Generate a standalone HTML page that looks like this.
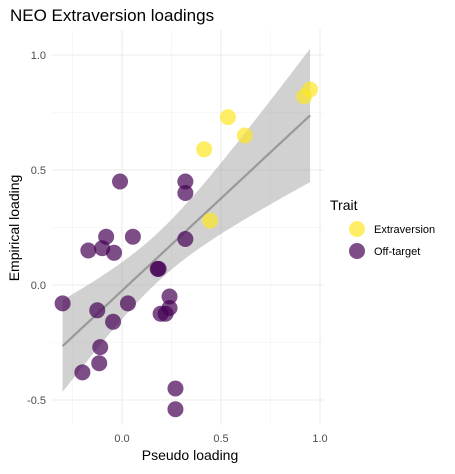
<!DOCTYPE html>
<html><head><meta charset="utf-8"><style>
body{margin:0;background:#fff;}
svg text{font-family:"Liberation Sans",sans-serif;}
</style></head><body>
<svg id="chart" width="455" height="469" xmlns="http://www.w3.org/2000/svg">
<text x="10" y="21" font-size="17" fill="#000">NEO Extraversion loadings</text>
<g id="grid"></g>
<g id="ribbon"></g>
<g id="pts"></g>
<g id="axes"></g>
<text x="190" y="460" font-size="14" text-anchor="middle" fill="#000">Pseudo loading</text>
<text transform="translate(19,228) rotate(-90)" font-size="14" text-anchor="middle" fill="#000">Empirical loading</text>
<g>
<text x="330" y="210" font-size="14" fill="#000">Trait</text>
<circle cx="357" cy="229" r="8" fill="#FDE725" fill-opacity="0.7"/>
<text x="374" y="233" font-size="11" fill="#000">Extraversion</text>
<circle cx="357" cy="251" r="8" fill="#440154" fill-opacity="0.7"/>
<text x="374" y="255" font-size="11" fill="#000">Off-target</text>
</g>
</svg>
<script>
const pseudo = [-0.30,-0.01,0.32,0.32,-0.08,-0.17,-0.10,-0.04,0.055,0.32,0.18,0.185,0.24,0.24,0.195,0.22,-0.125,0.03,-0.045,-0.11,-0.115,-0.20,0.27,0.27,0.445,0.415,0.535,0.62,0.92,0.95];
const empirical = [-0.08,0.45,0.45,0.40,0.21,0.15,0.16,0.14,0.21,0.20,0.07,0.07,-0.05,-0.10,-0.125,-0.125,-0.11,-0.08,-0.16,-0.27,-0.34,-0.38,-0.45,-0.54,0.28,0.59,0.73,0.65,0.82,0.85];
const trait = ["O","O","O","O","O","O","O","O","O","O","O","O","O","O","O","O","O","O","O","O","O","O","O","O","E","E","E","E","E","E"];
const xTicks = [0.0,0.5,1.0];
const yTicks = [-0.5,0.0,0.5,1.0];
const xTickLabels = ["0.0","0.5","1.0"];
const yTickLabels = ["-0.5","0.0","0.5","1.0"];

const NS="http://www.w3.org/2000/svg";
const X=v=>122+198*v, Y=v=>285-230*v;
const PL=52,PR=324,PT=30,PB=425;
function mk(t,a,p){const e=document.createElementNS(NS,t);for(const k in a)e.setAttribute(k,a[k]);p.appendChild(e);return e;}
const grid=document.getElementById('grid'),axes=document.getElementById('axes');
[-0.25,0.25,0.75].forEach(v=>{const l=mk('line',{x1:X(v),x2:X(v),y1:PT,y2:PB,stroke:'#f2f2f2','stroke-width':0.6},grid);});
[-0.25,0.25,0.75].forEach(v=>{const l=mk('line',{x1:PL,x2:PR,y1:Y(v),y2:Y(v),stroke:'#f2f2f2','stroke-width':0.6},grid);});
xTicks.forEach((v,i)=>{const l=mk('line',{x1:X(v),x2:X(v),y1:PT,y2:PB,stroke:'#ebebeb','stroke-width':1.1},grid);
 const t=mk('text',{x:X(v),y:442,'font-size':11,'text-anchor':'middle',fill:'#4d4d4d'},axes);t.textContent=xTickLabels[i];});
yTicks.forEach((v,i)=>{const l=mk('line',{x1:PL,x2:PR,y1:Y(v),y2:Y(v),stroke:'#ebebeb','stroke-width':1.1},grid);
 const t=mk('text',{x:46,y:Y(v)+4,'font-size':11,'text-anchor':'end',fill:'#4d4d4d'},axes);t.textContent=yTickLabels[i];});
// regression
const n=pseudo.length,mx=pseudo.reduce((a,b)=>a+b)/n,my=empirical.reduce((a,b)=>a+b)/n;
let sxx=0,sxy=0;for(let i=0;i<n;i++){sxx+=(pseudo[i]-mx)**2;sxy+=(pseudo[i]-mx)*(empirical[i]-my);}
const b=sxy/sxx,a=my-b*mx;let sse=0;for(let i=0;i<n;i++)sse+=(empirical[i]-a-b*pseudo[i])**2;
const s=Math.sqrt(sse/(n-2)),tq=2.048;
const x0=Math.min(...pseudo),x1=Math.max(...pseudo);
const up=[],lo=[];
for(let k=0;k<=40;k++){const x=x0+(x1-x0)*k/40,yh=a+b*x,se=s*Math.sqrt(1/n+(x-mx)**2/sxx);up.push(X(x)+','+Y(yh+tq*se));lo.unshift(X(x)+','+Y(yh-tq*se));}
const rg=document.getElementById('ribbon');
const poly=mk('polygon',{points:up.concat(lo).join(' '),fill:'#999','fill-opacity':0.45},rg);

const ln=mk('line',{x1:X(x0),y1:Y(a+b*x0),x2:X(x1),y2:Y(a+b*x1),stroke:'#999','stroke-width':2.2},rg);

const pg=document.getElementById('pts');
for(let i=0;i<n;i++){const c=mk('circle',{cx:X(pseudo[i]),cy:Y(empirical[i]),r:8,fill:trait[i]==='E'?'#FDE725':'#440154','fill-opacity':0.7},pg);
 
 }
</script>
</body></html>
